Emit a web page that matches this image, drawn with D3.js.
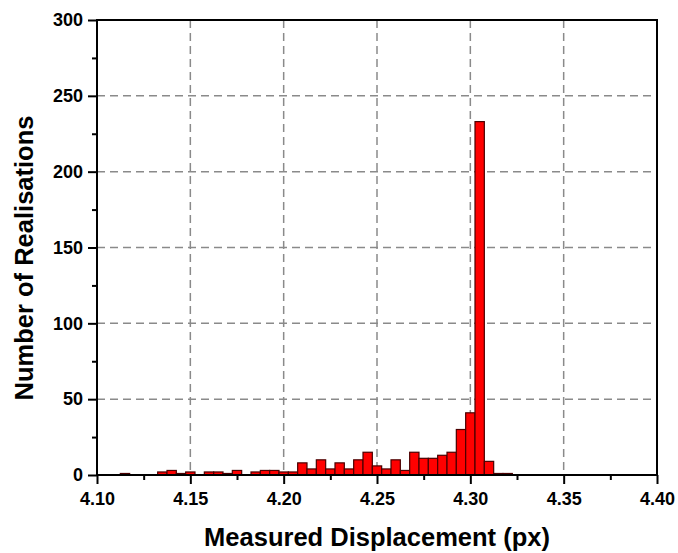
<!DOCTYPE html>
<html>
<head>
<meta charset="UTF-8">
<title>Histogram</title>
<style>
  body { margin: 0; background: white; }
  svg { display: block; }
  text { font-family: "Liberation Sans", Arial, sans-serif; font-weight: bold; fill: #000; }
</style>
<script src="https://cdnjs.cloudflare.com/ajax/libs/d3/7.8.5/d3.min.js"></script>
</head>
<body>
<div id="chart"></div>
<script>
// bin centres (px) and counts, bin width 0.005
const binCenters = [4.115, 4.12, 4.125, 4.13, 4.135, 4.14, 4.145, 4.15, 4.155, 4.16,
                    4.165, 4.17, 4.175, 4.18, 4.185, 4.19, 4.195, 4.20, 4.205, 4.21,
                    4.215, 4.22, 4.225, 4.23, 4.235, 4.24, 4.245, 4.25, 4.255, 4.26,
                    4.265, 4.27, 4.275, 4.28, 4.285, 4.29, 4.295, 4.30, 4.305, 4.31,
                    4.315, 4.32];
const counts = [1, 0, 0, 0, 2, 3, 1, 2, 0, 2,
                2, 1, 3, 0, 2, 3, 3, 2, 2, 8,
                4, 10, 4, 8, 4, 10, 15, 6, 4, 10,
                3, 15, 11, 11, 13, 15, 30, 41, 233, 9,
                1, 1];
const binWidth = 0.005;
const xTicks = [4.10, 4.15, 4.20, 4.25, 4.30, 4.35, 4.40];
const xMinor = [4.125, 4.175, 4.225, 4.275, 4.325, 4.375];
const yTicks = [0, 50, 100, 150, 200, 250, 300];
const yMinor = [25, 75, 125, 175, 225, 275];

const width = 678, height = 553;
const margin = {top: 20, right: 21, bottom: 78, left: 97};
const W = width - margin.left - margin.right;
const H = height - margin.top - margin.bottom;

const svg = d3.select("#chart").append("svg")
    .attr("width", width)
    .attr("height", height);

const g = svg.append("g")
    .attr("transform", `translate(${margin.left},${margin.top})`);

const x = d3.scaleLinear().domain([4.10, 4.40]).range([0, W]);
const y = d3.scaleLinear().domain([0, 300]).range([H, 0]);

// dashed grid
g.selectAll(".vgrid")
    .data(xTicks.slice(1, -1))
    .enter().append("line")
    .attr("x1", d => x(d)).attr("x2", d => x(d))
    .attr("y1", 0).attr("y2", H)
    .attr("stroke", "#8a8a8a")
    .attr("stroke-width", 1.5)
    .attr("stroke-dasharray", "8,5");

g.selectAll(".hgrid")
    .data(yTicks.slice(1, -1))
    .enter().append("line")
    .attr("x1", 0).attr("x2", W)
    .attr("y1", d => y(d)).attr("y2", d => y(d))
    .attr("stroke", "#8a8a8a")
    .attr("stroke-width", 1.5)
    .attr("stroke-dasharray", "8,5");

// bars
g.selectAll(".bar")
    .data(binCenters.map((c, i) => ({c: c, n: counts[i]})).filter(d => d.n > 0))
    .enter().append("rect")
    .attr("x", d => x(d.c - binWidth / 2))
    .attr("width", d => x(d.c + binWidth / 2) - x(d.c - binWidth / 2))
    .attr("y", d => y(d.n))
    .attr("height", d => y(0) - y(d.n))
    .attr("fill", "#ff0000")
    .attr("stroke", "#4a0000")
    .attr("stroke-width", 1.2);

// frame
g.append("rect")
    .attr("width", W).attr("height", H)
    .attr("fill", "none")
    .attr("stroke", "#000")
    .attr("stroke-width", 2);

// axes
g.append("g")
    .attr("transform", `translate(0,${H})`)
    .call(d3.axisBottom(x).tickValues(xTicks).tickFormat(d3.format(".2f")).tickSize(9).tickPadding(8));
g.append("g")
    .call(d3.axisLeft(y).tickValues(yTicks).tickSize(9).tickPadding(5));

g.append("g")
    .attr("transform", `translate(0,${H})`)
    .call(d3.axisBottom(x).tickValues(xMinor).tickSize(5).tickFormat(""));
g.append("g")
    .call(d3.axisLeft(y).tickValues(yMinor).tickSize(5).tickFormat(""));

g.selectAll(".domain").remove();
g.selectAll(".tick line").attr("stroke", "#000").attr("stroke-width", 2);
g.selectAll(".tick text")
    .style("font-size", "18px")
    .style("font-family", "'Liberation Sans', Arial, sans-serif")
    .style("font-weight", "bold")
    .attr("fill", "#000");

// axis titles
svg.append("text")
    .attr("x", margin.left + W / 2)
    .attr("y", 546)
    .attr("text-anchor", "middle")
    .style("font-size", "25.5px")
    .text("Measured Displacement (px)");

svg.append("text")
    .attr("transform", `translate(33,258) rotate(-90)`)
    .attr("text-anchor", "middle")
    .style("font-size", "25.5px")
    .text("Number of Realisations");
</script>
</body>
</html>
